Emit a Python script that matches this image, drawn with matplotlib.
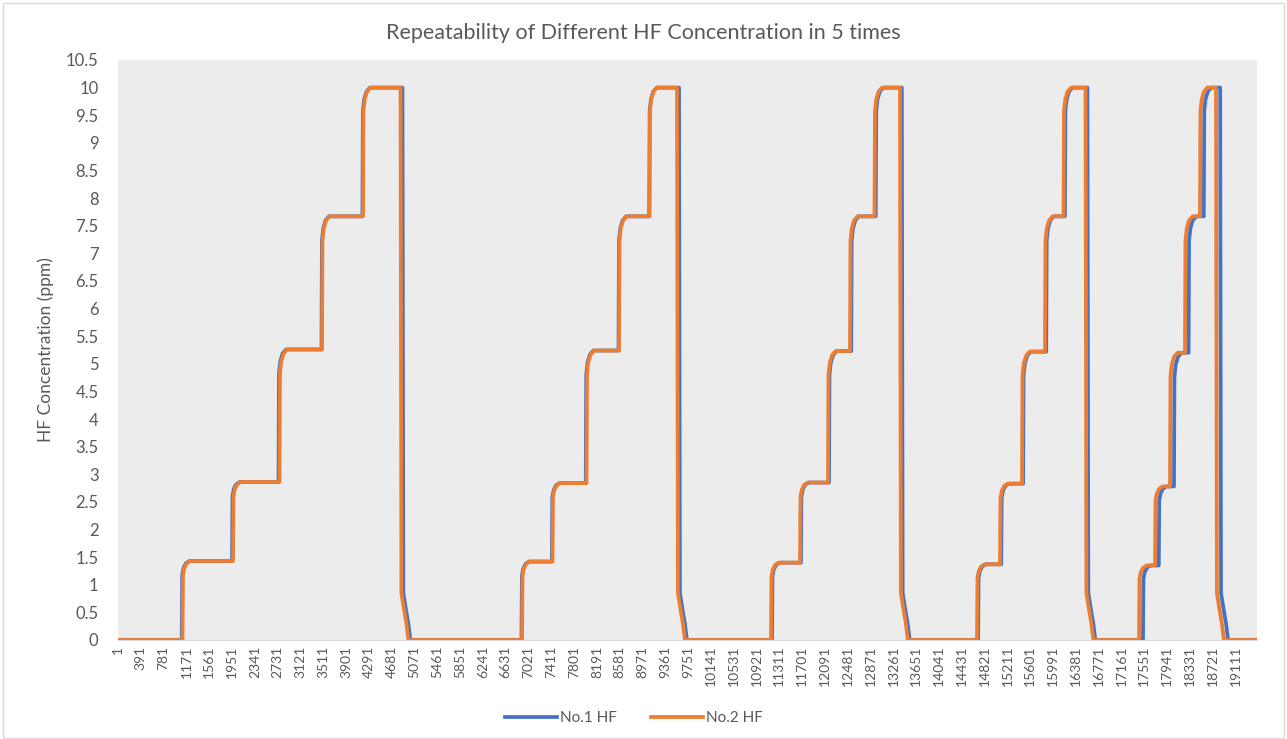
import numpy as np
import matplotlib
matplotlib.use("Agg")
import matplotlib.pyplot as plt
from matplotlib.patches import Rectangle

# sample count and category tick labels (every 390th sample)
n_samples = 19475
tick_pos = list(range(1, 19112, 390))

# plateau levels (ppm) for each of the 5 runs
levels = [
    [1.43, 2.86, 5.26, 7.67, 10.0],
    [1.42, 2.84, 5.24, 7.67, 10.0],
    [1.40, 2.85, 5.23, 7.67, 10.0],
    [1.37, 2.83, 5.22, 7.67, 10.0],
    [1.35, 2.78, 5.20, 7.67, 10.0],
]

# sample index where each step starts, No.2 HF (orange)
rise_no2 = [
    [1103, 1967, 2762, 3489, 4190],
    [6910, 7431, 8013, 8569, 9090],
    [11168, 11664, 12143, 12519, 12938],
    [14691, 15085, 15461, 15854, 16171],
    [17462, 17736, 17992, 18248, 18505],
]
drop_no2 = [4832, 9561, 13374, 16547, 18779]

# No.1 HF (blue)
rise_no1 = [
    [1090, 1950, 2745, 3480, 4180],
    [6900, 7420, 8000, 8560, 9085],
    [11185, 11680, 12160, 12540, 12960],
    [14710, 15105, 15480, 15875, 16195],
    [17530, 17800, 18060, 18310, 18570],
]
drop_no1 = [4865, 9595, 13405, 16580, 18850]

# shape of the sensor response after a step
settle_dt = [0, 8, 30, 70, 130]
settle_frac = [0, 0.82, 0.91, 0.97, 1.0]
tail_dt = [0, 15, 60, 100, 135]
tail_val = [10.0, 0.85, 0.55, 0.3, 0.0]


def build(rises, drops):
    xs, ys = [1], [0.0]
    for c in range(5):
        prev = 0.0
        for r, lv in zip(rises[c], levels[c]):
            for dt, f in zip(settle_dt, settle_frac):
                xs.append(r + dt)
                ys.append(prev + f * (lv - prev))
            prev = lv
        for dt, v in zip(tail_dt, tail_val):
            xs.append(drops[c] + dt)
            ys.append(v)
    xs.append(n_samples)
    ys.append(0.0)
    return xs, ys


x1, y1 = build(rise_no1, drop_no1)
x2, y2 = build(rise_no2, drop_no2)

txt = "#595959"
plt.rcParams["font.family"] = ["Lato", "DejaVu Sans"]

fig = plt.figure(figsize=(12.87, 7.39), dpi=100)
fig.patches.append(Rectangle((0.002, 0.002), 0.996, 0.994, transform=fig.transFigure,
                             fill=False, edgecolor="#d9d9d9", linewidth=1))
ax = fig.add_axes([118 / 1287, 1 - 640 / 739, 1139 / 1287, 580 / 739])
ax.set_facecolor("#ececec")

ax.plot(x1, y1, color="#4472c4", lw=2.7, label="No.1 HF", solid_joinstyle="round")
ax.plot(x2, y2, color="#ed7d31", lw=2.7, label="No.2 HF", solid_joinstyle="round")

ax.set_xlim(0, 19480)
ax.set_ylim(0, 10.5)
ax.set_yticks(np.arange(0, 10.51, 0.5))
ax.set_yticklabels([f"{v:g}" for v in np.arange(0, 10.51, 0.5)], color=txt, fontsize=12)
ax.set_xticks(tick_pos)
ax.set_xticklabels([str(t) for t in tick_pos], rotation=90, color=txt, fontsize=10)
ax.tick_params(axis="y", length=0, pad=14)
ax.tick_params(axis="x", length=0, pad=4)
for s in ["top", "right", "left"]:
    ax.spines[s].set_visible(False)
ax.spines["bottom"].set_color("#d9d9d9")

ax.set_ylabel("HF Concentration (ppm)", color=txt, fontsize=12.5)
ax.yaxis.set_label_coords(-(118 - 54) / 1139, 0.5)
fig.text(0.5, 1 - 33 / 739, "Repeatability of Different HF Concentration in 5 times",
         ha="center", va="center", color=txt, fontsize=15.5)

fig.legend(loc="center", bbox_to_anchor=(634 / 1287, 1 - 718 / 739), ncol=2,
           frameon=False, fontsize=11, handlelength=3.4, columnspacing=2.2,
           handletextpad=0.2, labelcolor=txt)

fig.savefig("out.png", dpi=100)
